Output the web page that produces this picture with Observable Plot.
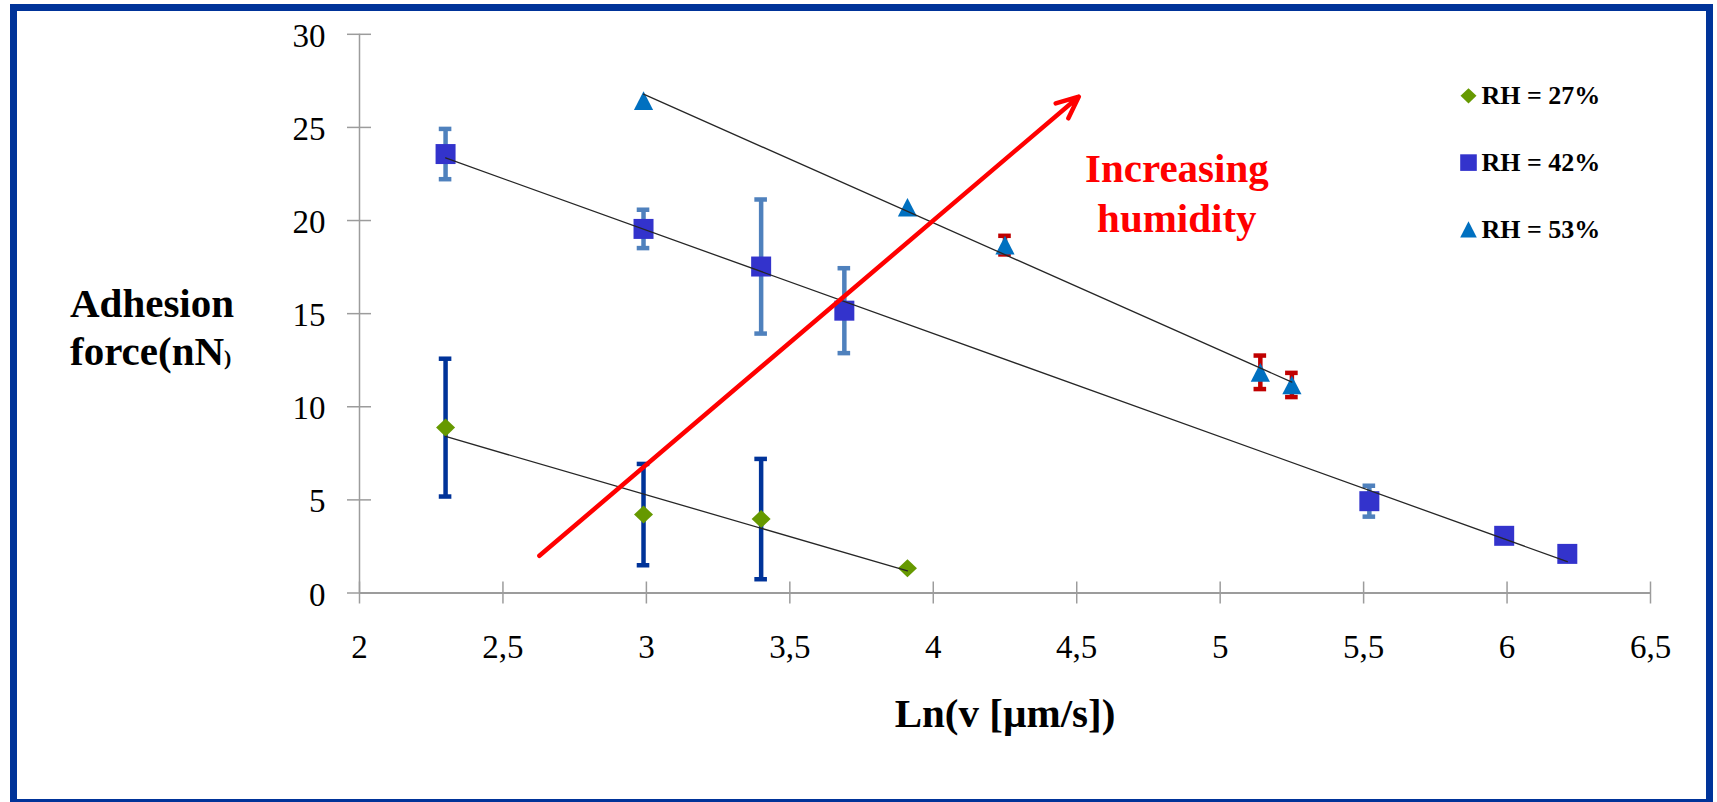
<!DOCTYPE html>
<html>
<head>
<meta charset="utf-8">
<script src="https://cdn.jsdelivr.net/npm/d3@7"></script>
<script src="https://cdn.jsdelivr.net/npm/@observablehq/plot@0.6"></script>
<style>
  html, body { margin: 0; padding: 0; background: #ffffff; }
  #chart { position: relative; width: 1717px; height: 802px; overflow: hidden; background: #ffffff; }
  #chart svg { position: absolute; left: 0; top: 0; }
  #frame {
    position: absolute; left: 10px; top: 4px; width: 1703px; height: 802px;
    border: 7px solid #003399; box-sizing: border-box; pointer-events: none;
  }
</style>
</head>
<body>
<div id="chart"><div id="frame"></div></div>
<script>
// Adhesion force versus ln(pulling speed) at three relative humidities
const lnSpeed27 = [2.30, 2.99, 3.40, 3.91];
const force27   = [8.88, 4.21, 3.97, 1.33];
const err27     = [3.70, 2.72, 3.23, null];

const lnSpeed42 = [2.30, 2.99, 3.40, 3.69, 5.52, 5.99, 6.21];
const force42   = [23.57, 19.55, 17.53, 15.16, 4.93, 3.07, 2.10];
const err42     = [1.35, 1.03, 3.60, 2.28, 0.83, null, null];

const lnSpeed53 = [2.99, 3.91, 4.25, 5.14, 5.25];
const force53   = [26.44, 20.71, 18.68, 11.85, 11.17];
const err53     = [null, null, 0.50, 0.90, 0.65];

const seriesLabels = ["RH = 27%", "RH = 42%", "RH = 53%"];
const xTicks = [2, 2.5, 3, 3.5, 4, 4.5, 5, 5.5, 6, 6.5];
const yTicks = [0, 5, 10, 15, 20, 25, 30];

const xTitle = "Ln(v [µm/s])";
const yTitleLines = ["Adhesion", "force(nN"];
const trendArrow = [{x1: 2.627, y1: 2.0, x2: 4.507, y2: 26.65}];
const trendNote = [{x: 4.849, y: 19.37, text: "Increasing\nhumidity"}];

// Marker shapes centred on their bounding box
const radius = size => Math.sqrt(size / Math.PI);
const squareSymbol = {draw(ctx, size) { const r = radius(size); ctx.rect(-r, -r, 2 * r, 2 * r); }};
const diamondSymbol = {draw(ctx, size) {
  const r = radius(size), h = r * 0.95;
  ctx.moveTo(0, -h); ctx.lineTo(r, 0); ctx.lineTo(0, h); ctx.lineTo(-r, 0); ctx.closePath();
}};
const triangleSymbol = {draw(ctx, size) {
  const r = radius(size), h = r * 0.97;
  ctx.moveTo(0, -h); ctx.lineTo(r, h); ctx.lineTo(-r, h); ctx.closePath();
}};

const series = [
  {label: seriesLabels[0], xs: lnSpeed27, ys: force27, es: err27, symbol: diamondSymbol, fill: "#669900", bar: "#003399", r: 9.5, lr: 8},
  {label: seriesLabels[1], xs: lnSpeed42, ys: force42, es: err42, symbol: squareSymbol, fill: "#3333CC", bar: "#4F81BD", r: 10, lr: 8.3},
  {label: seriesLabels[2], xs: lnSpeed53, ys: force53, es: err53, symbol: triangleSymbol, fill: "#0070C0", bar: "#C00000", r: 9.6, lr: 8.3}
].map(s => ({...s, rows: s.xs.map((x, i) => ({x, y: s.ys[i], err: s.es[i]}))}));

const axisGray = "#9c9c9c";
const serif = '"Liberation Serif", "Times New Roman", serif';
const comma = d => String(d).replace(".", ",");

const errorBarMarks = series.flatMap(s => {
  const withErr = s.rows.filter(d => d.err != null);
  const caps = withErr.flatMap(d => [{x: d.x, y: d.y - d.err}, {x: d.x, y: d.y + d.err}]);
  return [
    Plot.ruleX(withErr, {x: "x", y1: d => d.y - d.err, y2: d => d.y + d.err, stroke: s.bar, strokeWidth: 4.5}),
    Plot.ruleY(caps, {y: "y", x1: "x", x2: "x", insetLeft: -6.3, insetRight: -6.3, stroke: s.bar, strokeWidth: 4.5})
  ];
});

const dotMarks = series.map(s =>
  Plot.dot(s.rows, {x: "x", y: "y", symbol: s.symbol, r: s.r, fill: s.fill, stroke: null})
);

const trendMarks = series.map(s =>
  Plot.linearRegressionY(s.rows, {x: "x", y: "y", ci: 0, stroke: "#262626", strokeWidth: 1.3})
);

const legendMarks = series.flatMap((s, i) => [
  Plot.dot([s], {frameAnchor: "top-right", dx: -182, dy: 61.5 + 66.8 * i, symbol: s.symbol, r: s.lr, fill: s.fill}),
  Plot.text([s], {frameAnchor: "top-right", dx: -169, dy: 70 + 66.8 * i, text: "label", textAnchor: "start",
    lineAnchor: "bottom", fontSize: 26, fontWeight: "bold", fill: "black"})
]);

const plot = Plot.plot({
  width: 1717,
  height: 802,
  marginLeft: 359,
  marginRight: 67,
  marginTop: 33.8,
  marginBottom: 209.5,
  x: {domain: [2, 6.5], label: null},
  y: {domain: [0, 30], label: null},
  style: {fontFamily: serif, color: "black", background: "white", overflow: "visible"},
  marks: [
    // axis lines and ticks that straddle them
    Plot.ruleX([2], {y1: 0, y2: 30, stroke: axisGray, strokeWidth: 1.5}),
    Plot.ruleY(yTicks, {y: d => d, x1: 2, x2: 2, insetLeft: -12, insetRight: -12, stroke: axisGray, strokeWidth: 1.5}),
    Plot.ruleX(xTicks, {x: d => d, y1: 0, y2: 0, insetTop: -11, insetBottom: -11, stroke: axisGray, strokeWidth: 1.5}),
    Plot.ruleY([0], {x1: 2, x2: 6.5, stroke: axisGray, strokeWidth: 2.2}),
    Plot.axisX(xTicks, {anchor: "bottom", tickSize: 0, tickPadding: 42, tickFormat: comma, fontSize: 33, label: null}),
    Plot.axisY(yTicks, {anchor: "left", tickSize: 0, tickPadding: 34, tickFormat: comma, fontSize: 33, dy: 2, label: null}),
    ...errorBarMarks,
    ...dotMarks,
    ...trendMarks,
    Plot.arrow(trendArrow, {x1: "x1", y1: "y1", x2: "x2", y2: "y2", stroke: "#FF0000", strokeWidth: 4.5, headLength: 8, headAngle: 48}),
    Plot.text(trendNote, {x: "x", y: "y", text: "text", fill: "#FF0000", fontSize: 41, fontWeight: "bold",
      textAnchor: "middle", lineAnchor: "bottom", lineHeight: 1.236}),
    Plot.text([xTitle], {frameAnchor: "bottom", dy: 134, text: d => d, lineAnchor: "bottom", fontSize: 41, fontWeight: "bold", fill: "black"}),
    ...legendMarks
  ]
});

// Two-line y title; the closing parenthesis is set smaller
const svg = d3.select(plot);
const yTitle = svg.append("g")
  .attr("font-family", serif).attr("font-weight", "bold").attr("font-size", 41)
  .attr("fill", "black").attr("text-anchor", "start");
yTitle.append("text").attr("x", 70).attr("y", 316.7).text(yTitleLines[0]);
const second = yTitle.append("text").attr("x", 70).attr("y", 365);
second.append("tspan").text(yTitleLines[1]);
second.append("tspan").attr("font-size", 22).text(")");

document.getElementById("chart").insertBefore(plot, document.getElementById("frame"));
</script>
</body>
</html>
